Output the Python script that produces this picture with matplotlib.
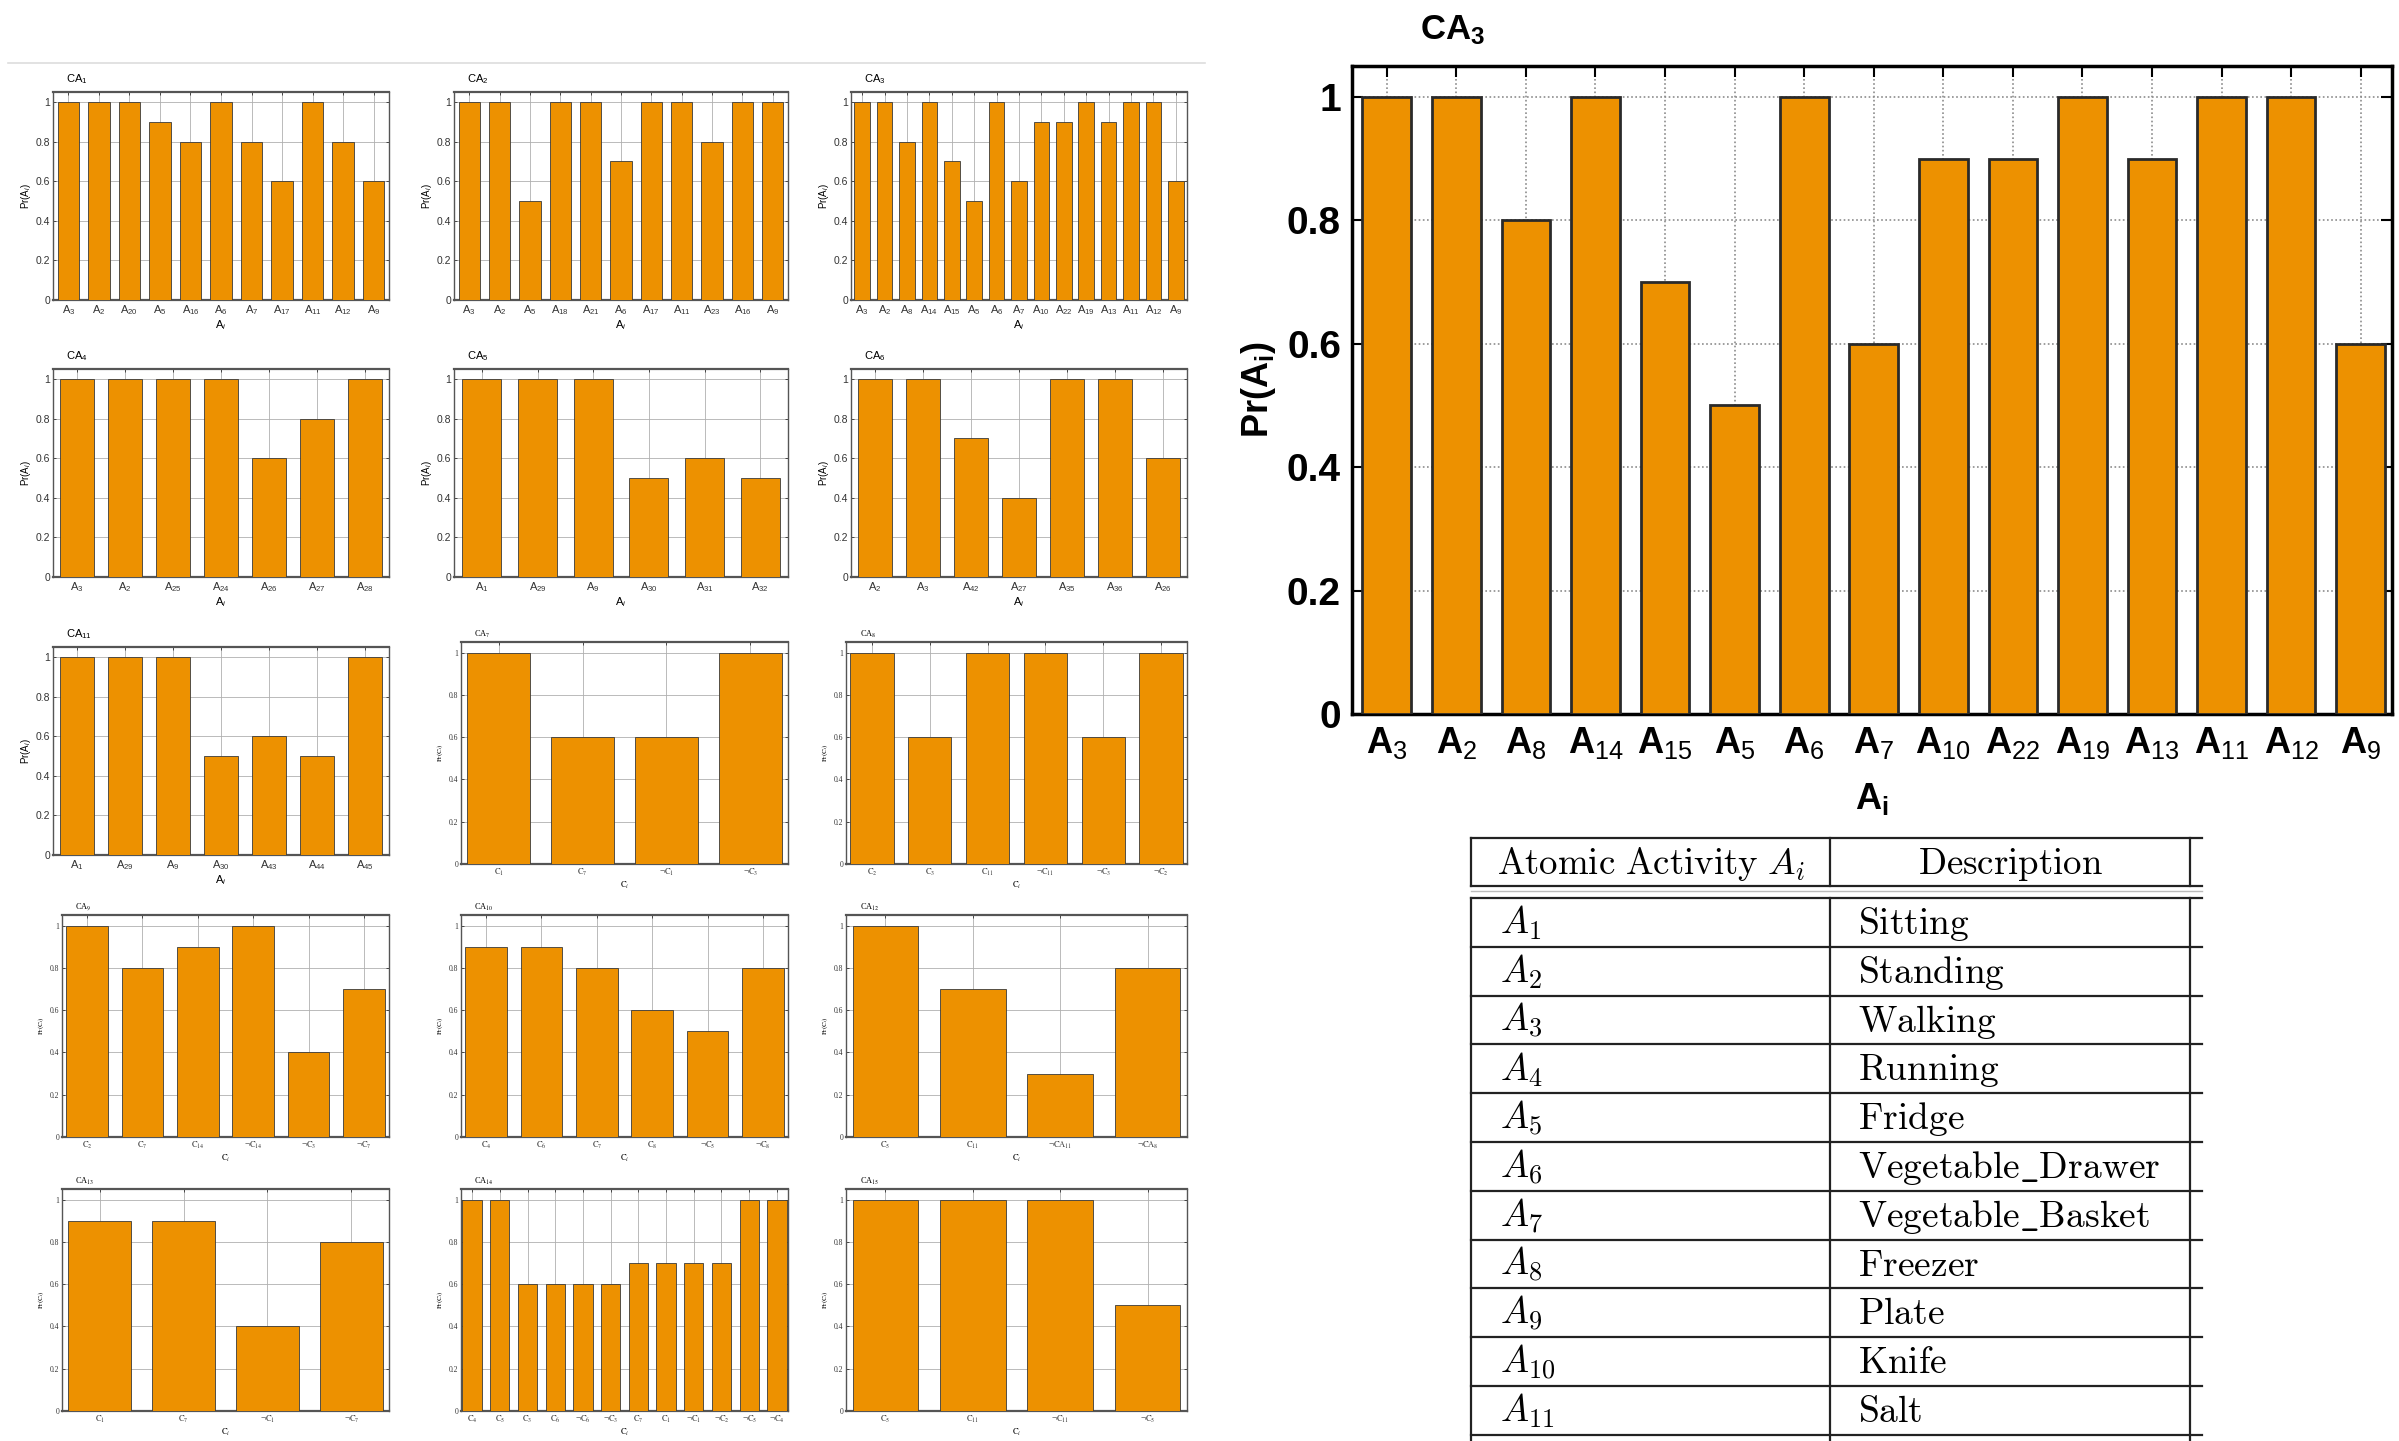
import matplotlib.pyplot as plt
from matplotlib.lines import Line2D

W, H = 2399, 1441

plt.rcParams['font.family'] = ['Liberation Sans', 'DejaVu Sans']
plt.rcParams['mathtext.fontset'] = 'custom'
plt.rcParams['mathtext.rm'] = 'Liberation Sans'
plt.rcParams['mathtext.it'] = 'Liberation Sans:italic'
plt.rcParams['mathtext.bf'] = 'Liberation Sans:bold'

ORANGE = '#ED9100'

# --- data: small panels ---
ca1_labels = ['A3', 'A2', 'A20', 'A5', 'A16', 'A6', 'A7', 'A17', 'A11', 'A12', 'A9']
ca1_values = [1, 1, 1, 0.9, 0.8, 1, 0.8, 0.6, 1, 0.8, 0.6]
ca2_labels = ['A3', 'A2', 'A5', 'A18', 'A21', 'A6', 'A17', 'A11', 'A23', 'A16', 'A9']
ca2_values = [1, 1, 0.5, 1, 1, 0.7, 1, 1, 0.8, 1, 1]
ca3_labels = ['A3', 'A2', 'A8', 'A14', 'A15', 'A5', 'A6', 'A7', 'A10', 'A22', 'A19', 'A13', 'A11', 'A12', 'A9']
ca3_values = [1, 1, 0.8, 1, 0.7, 0.5, 1, 0.6, 0.9, 0.9, 1, 0.9, 1, 1, 0.6]
ca4_labels = ['A3', 'A2', 'A25', 'A24', 'A26', 'A27', 'A28']
ca4_values = [1, 1, 1, 1, 0.6, 0.8, 1]
ca5_labels = ['A1', 'A29', 'A9', 'A30', 'A31', 'A32']
ca5_values = [1, 1, 1, 0.5, 0.6, 0.5]
ca6_labels = ['A2', 'A3', 'A42', 'A27', 'A35', 'A36', 'A26']
ca6_values = [1, 1, 0.7, 0.4, 1, 1, 0.6]
ca11_labels = ['A1', 'A29', 'A9', 'A30', 'A43', 'A44', 'A45']
ca11_values = [1, 1, 1, 0.5, 0.6, 0.5, 1]

ca7_labels = ['C1', 'C7', '¬C1', '¬C3']
ca7_values = [1, 0.6, 0.6, 1]
ca8_labels = ['C2', 'C3', 'C11', '¬C11', '¬C3', '¬C2']
ca8_values = [1, 0.6, 1, 1, 0.6, 1]
ca9_labels = ['C2', 'C7', 'C14', '¬C14', '¬C3', '¬C7']
ca9_values = [1, 0.8, 0.9, 1, 0.4, 0.7]
ca10_labels = ['C4', 'C6', 'C7', 'C8', '¬C5', '¬C8']
ca10_values = [0.9, 0.9, 0.8, 0.6, 0.5, 0.8]
ca12_labels = ['C5', 'C11', '¬CA11', '¬CA8']
ca12_values = [1, 0.7, 0.3, 0.8]
ca13_labels = ['C1', 'C7', '¬C1', '¬C7']
ca13_values = [0.9, 0.9, 0.4, 0.8]
ca14_labels = ['C4', 'C5', 'C3', 'C6', '¬C6', '¬C3', 'C7', 'C1', '¬C1', '¬C2', '¬C5', '¬C4']
ca14_values = [1, 1, 0.6, 0.6, 0.6, 0.6, 0.7, 0.7, 0.7, 0.7, 1, 1]
ca15_labels = ['C5', 'C11', '¬C11', '¬C5']
ca15_values = [1, 1, 1, 0.5]

y_ticks = [0, 0.2, 0.4, 0.6, 0.8, 1]
y_ticklabels = ['0', '0.2', '0.4', '0.6', '0.8', '1']

# --- data: table ---
table_ids = ['A1', 'A2', 'A3', 'A4', 'A5', 'A6', 'A7', 'A8', 'A9', 'A10', 'A11']
table_desc = ['Sitting', 'Standing', 'Walking', 'Running', 'Fridge', 'Vegetable_Drawer',
              'Vegetable_Basket', 'Freezer', 'Plate', 'Knife', 'Salt']


def box(l, t, r, b):
    return [l / W, 1 - b / H, (r - l) / W, (b - t) / H]


def a_label(s):
    return s[0] + '$_{' + s[1:] + '}$'


def c_label(s):
    neg = s.startswith('¬')
    s = s.lstrip('¬')
    head = s.rstrip('0123456789')
    num = s[len(head):]
    return '$' + (r'\neg' if neg else '') + r'\mathrm{' + head + '}_{' + num + '}$'


fig = plt.figure(figsize=(W / 100, H / 100), dpi=100)

# thin rule above left block
fig.add_artist(Line2D([8 / W, 1205 / W], [1 - 63 / H, 1 - 63 / H], color='#dddddd', lw=1.2))

panels = [
    ('CA$_1$', ca1_labels, ca1_values, 'A', 0, 0),
    ('CA$_2$', ca2_labels, ca2_values, 'A', 0, 1),
    ('CA$_3$', ca3_labels, ca3_values, 'A', 0, 2),
    ('CA$_4$', ca4_labels, ca4_values, 'A', 1, 0),
    ('CA$_5$', ca5_labels, ca5_values, 'A', 1, 1),
    ('CA$_6$', ca6_labels, ca6_values, 'A', 1, 2),
    ('CA$_{11}$', ca11_labels, ca11_values, 'A', 2, 0),
    ('CA$_7$', ca7_labels, ca7_values, 'C', 2, 1),
    ('CA$_8$', ca8_labels, ca8_values, 'C', 2, 2),
    ('CA$_9$', ca9_labels, ca9_values, 'C', 3, 0),
    ('CA$_{10}$', ca10_labels, ca10_values, 'C', 3, 1),
    ('CA$_{12}$', ca12_labels, ca12_values, 'C', 3, 2),
    ('CA$_{13}$', ca13_labels, ca13_values, 'C', 4, 0),
    ('CA$_{14}$', ca14_labels, ca14_values, 'C', 4, 1),
    ('CA$_{15}$', ca15_labels, ca15_values, 'C', 4, 2),
]

a_left = [53, 454, 851]
c_left = [62, 461, 846]
rights = [389, 788, 1187]
a_tops = [92, 369, 647]
c_tops = [0, 0, 642, 915, 1189]

for title, labels, values, kind, row, col in panels:
    if kind == 'A':
        ax = fig.add_axes(box(a_left[col], a_tops[row], rights[col], a_tops[row] + 208))
        xs = range(len(values))
        ax.bar(xs, values, width=0.7, color=ORANGE, edgecolor='#3a3a3a', lw=0.6, zorder=3)
        ax.set_xlim(-0.5, len(values) - 0.5)
        ax.set_xticks(list(xs))
        ax.set_xticklabels([a_label(s) for s in labels], fontsize=8)
        ax.set_xlabel('A$_i$', fontsize=8, labelpad=1)
        ax.set_ylabel('Pr(A$_i$)', fontsize=7, labelpad=2)
        ax.set_yticks(y_ticks)
        ax.set_yticklabels(y_ticklabels, fontsize=7.5)
        ax.text(0.04, 1.03, title, transform=ax.transAxes, fontsize=8, ha='left', va='bottom')
    else:
        ax = fig.add_axes(box(c_left[col], c_tops[row], rights[col], c_tops[row] + 222))
        xs = range(len(values))
        w = 0.75 if len(values) < 10 else 0.7
        ax.bar(xs, values, width=w, color=ORANGE, edgecolor='#3a3a3a', lw=0.6, zorder=3)
        pad = 0.45 if len(values) < 10 else 0.4
        ax.set_xlim(-pad, len(values) - 1 + pad)
        ax.set_xticks(list(xs))
        ax.set_xticklabels([c_label(s) for s in labels], fontsize=6,
                           fontfamily='Liberation Serif', math_fontfamily='stix')
        ax.set_xlabel(r'$\mathrm{C}_i$', fontsize=6, math_fontfamily='stix', labelpad=1)
        ax.set_ylabel(r'$\mathrm{Pr(C}_i\mathrm{)}$', fontsize=5, math_fontfamily='stix', labelpad=3)
        ax.set_yticks(y_ticks)
        ax.set_yticklabels(y_ticklabels, fontsize=5.5, fontfamily='Liberation Serif')
        ax.text(0.04, 1.01, title, transform=ax.transAxes, fontsize=6, ha='left', va='bottom',
                fontfamily='Liberation Serif', math_fontfamily='stix')
    ax.set_ylim(0, 1.05)
    ax.set_axisbelow(True)
    ax.grid(True, color='#b0b0b0', lw=0.6, ls='-')
    ax.tick_params(direction='in', length=2, width=0.6, pad=2, top=True, right=True, colors='#333333')
    for sp in ax.spines.values():
        sp.set_color('#555555')
        sp.set_linewidth(1.0)
    ax.spines['top'].set_linewidth(1.6)
    ax.spines['bottom'].set_linewidth(1.6)

# --- big CA3 chart ---
ax = fig.add_axes(box(1352, 66, 2392, 714))
xs = range(len(ca3_values))
ax.bar(xs, ca3_values, width=0.7, color=ORANGE, edgecolor='#2a2a2a', lw=2.0, zorder=3)
ax.set_xlim(-0.5, len(ca3_values) - 0.55)
ax.set_ylim(0, 1.05)
ax.set_xticks(list(xs))
ax.set_xticklabels([a_label(s) for s in ca3_labels], fontsize=26, fontweight='bold')
ax.set_yticks(y_ticks)
ax.set_yticklabels(y_ticklabels, fontsize=28, fontweight='bold')
ax.set_axisbelow(True)
ax.grid(True, color='#8c8c8c', lw=1.2, ls=(0, (1, 1.5)))
ax.tick_params(direction='in', length=8, width=1.5, top=True, right=True, pad=8)
for sp in ax.spines.values():
    sp.set_linewidth(2.5)
ax.set_xlabel('A$_\\mathbf{i}$', fontsize=26, fontweight='bold', labelpad=14)
ax.set_ylabel('Pr(A$_\\mathbf{i}$)', fontsize=26, fontweight='bold', labelpad=6)
ax.text(0.065, 1.03, 'CA$_\\mathbf{3}$', transform=ax.transAxes, fontsize=25,
        fontweight='bold', ha='left', va='bottom')

# --- table ---
ax_t = fig.add_axes(box(1440, 820, 2240, 1441))
ax_t.set_xlim(1440, 2240)
ax_t.set_ylim(1441, 820)
ax_t.axis('off')
x0, xm, xr, xe = 1471, 1830, 2190, 2202
head_top, head_bot = 838, 886
row_top, row_h = 898, 48.8

for y in (head_top, head_bot):
    ax_t.plot([x0, xe], [y, y], color='#222222', lw=1.6, clip_on=False)
ax_t.plot([x0, xe], [891, 891], color='#bbbbbb', lw=1.0)
for x in (x0, xm, xr):
    ax_t.plot([x, x], [head_top, head_bot], color='#222222', lw=1.6)
    ax_t.plot([x, x], [row_top, 1441], color='#222222', lw=1.6)
for i in range(len(table_ids) + 1):
    y = row_top + i * row_h
    ax_t.plot([x0, xe], [y, y], color='#222222', lw=1.6)

ax_t.text((x0 + xm) / 2, head_bot - 12, r'$\mathrm{Atomic\ Activity\ }A_i$', fontsize=26.5,
          math_fontfamily='cm', ha='center', va='baseline')
ax_t.text((xm + xr) / 2, head_bot - 12, r'$\mathrm{Description}$', fontsize=26.5,
          math_fontfamily='cm', ha='center', va='baseline')
for i, (aid, desc) in enumerate(zip(table_ids, table_desc)):
    base = row_top + i * row_h + 36
    ax_t.text(x0 + 29, base, '$A_{' + aid[1:] + '}$', fontsize=27, math_fontfamily='cm',
              ha='left', va='baseline')
    ax_t.text(xm + 28, base, r'$\mathrm{' + desc.replace('_', r'\_') + '}$', fontsize=27,
              math_fontfamily='cm', ha='left', va='baseline')

fig.savefig('out.png', dpi=100)
